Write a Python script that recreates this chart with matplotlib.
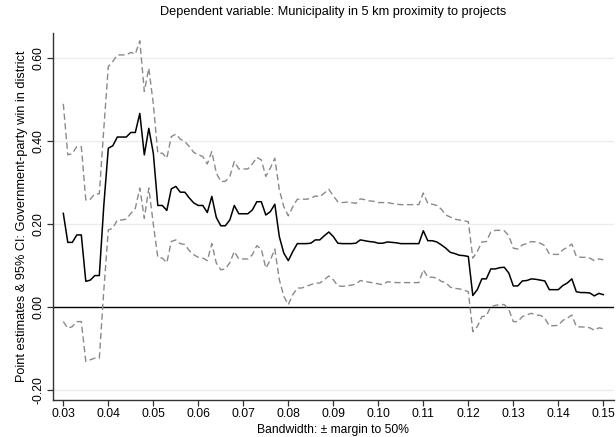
import numpy as np
import matplotlib
matplotlib.use("Agg")
import matplotlib.pyplot as plt

plt.rcParams['font.family'] = ['Liberation Sans', 'DejaVu Sans']

# bandwidth grid 0.030 ... 0.150 in steps of 0.001
bandwidth = np.arange(30, 151) / 1000

estimate = [
    0.226, 0.156, 0.156, 0.174, 0.174, 0.062, 0.065, 0.076, 0.076, 0.245,
    0.383, 0.389, 0.410, 0.410, 0.410, 0.421, 0.421, 0.467, 0.367, 0.431,
    0.371, 0.245, 0.245, 0.233, 0.285, 0.291, 0.277, 0.277, 0.263, 0.251,
    0.245, 0.245, 0.228, 0.267, 0.216, 0.196, 0.196, 0.210, 0.245, 0.225,
    0.225, 0.225, 0.234, 0.254, 0.254, 0.222, 0.230, 0.248, 0.170, 0.130,
    0.112, 0.134, 0.153, 0.153, 0.153, 0.154, 0.162, 0.162, 0.172, 0.181,
    0.170, 0.154, 0.153, 0.153, 0.153, 0.154, 0.162, 0.160, 0.158, 0.157,
    0.154, 0.154, 0.157, 0.156, 0.155, 0.153, 0.153, 0.153, 0.153, 0.153,
    0.184, 0.160, 0.160, 0.157, 0.150, 0.142, 0.132, 0.129, 0.125, 0.124,
    0.122, 0.028, 0.042, 0.068, 0.068, 0.092, 0.092, 0.095, 0.096, 0.082,
    0.051, 0.051, 0.063, 0.064, 0.068, 0.067, 0.065, 0.063, 0.042, 0.042,
    0.042, 0.052, 0.058, 0.068, 0.037, 0.035, 0.035, 0.034, 0.027, 0.033,
    0.030,
]

ci_upper = [
    0.490, 0.367, 0.370, 0.387, 0.387, 0.258, 0.260, 0.273, 0.273, 0.430,
    0.580, 0.592, 0.608, 0.608, 0.608, 0.614, 0.610, 0.642, 0.520, 0.576,
    0.490, 0.371, 0.371, 0.359, 0.411, 0.417, 0.405, 0.399, 0.387, 0.373,
    0.367, 0.363, 0.345, 0.375, 0.323, 0.303, 0.303, 0.315, 0.351, 0.333,
    0.333, 0.333, 0.345, 0.361, 0.355, 0.315, 0.335, 0.359, 0.283, 0.242,
    0.220, 0.242, 0.260, 0.260, 0.260, 0.262, 0.268, 0.266, 0.275, 0.284,
    0.268, 0.254, 0.252, 0.253, 0.252, 0.250, 0.261, 0.259, 0.256, 0.255,
    0.252, 0.252, 0.252, 0.250, 0.248, 0.247, 0.247, 0.247, 0.247, 0.247,
    0.275, 0.250, 0.248, 0.245, 0.236, 0.222, 0.217, 0.212, 0.210, 0.208,
    0.206, 0.118, 0.134, 0.157, 0.158, 0.181, 0.185, 0.185, 0.184, 0.172,
    0.142, 0.140, 0.150, 0.153, 0.158, 0.157, 0.154, 0.148, 0.128, 0.127,
    0.127, 0.138, 0.144, 0.152, 0.122, 0.120, 0.120, 0.118, 0.112, 0.116,
    0.114,
]

ci_lower = [
    -0.035, -0.051, -0.047, -0.035, -0.035, -0.131, -0.127, -0.123, -0.123, 0.040,
    0.186, 0.190, 0.210, 0.210, 0.212, 0.226, 0.238, 0.287, 0.214, 0.287,
    0.200, 0.120, 0.118, 0.107, 0.158, 0.162, 0.153, 0.151, 0.136, 0.126,
    0.120, 0.118, 0.112, 0.153, 0.106, 0.090, 0.092, 0.107, 0.134, 0.116,
    0.116, 0.116, 0.126, 0.148, 0.140, 0.094, 0.113, 0.140, 0.066, 0.026,
    0.006, 0.030, 0.046, 0.046, 0.050, 0.054, 0.058, 0.058, 0.066, 0.075,
    0.066, 0.051, 0.050, 0.051, 0.053, 0.055, 0.064, 0.062, 0.060, 0.058,
    0.056, 0.054, 0.061, 0.060, 0.059, 0.059, 0.059, 0.059, 0.059, 0.059,
    0.090, 0.072, 0.072, 0.070, 0.062, 0.059, 0.048, 0.045, 0.044, 0.041,
    0.037, -0.059, -0.047, -0.023, -0.021, 0.001, 0.004, 0.006, 0.006, -0.006,
    -0.035, -0.035, -0.023, -0.019, -0.015, -0.019, -0.020, -0.027, -0.045, -0.045,
    -0.044, -0.032, -0.027, -0.019, -0.047, -0.048, -0.048, -0.050, -0.056, -0.050,
    -0.052,
]

x_ticks = [0.03, 0.04, 0.05, 0.06, 0.07, 0.08, 0.09, 0.10, 0.11, 0.12, 0.13, 0.14, 0.15]
y_ticks = [-0.2, 0.0, 0.2, 0.4, 0.6]

fig = plt.figure(figsize=(6.16, 4.37), dpi=100)
ax = fig.add_axes([0.0856, 0.0847, 0.9112, 0.839])

for yv in y_ticks:
    if yv != 0:
        ax.axhline(yv, color='#e6eef0', lw=1.0, zorder=0)
ax.axhline(0, color='black', lw=1.0, zorder=1)

dash = (0, (4.5, 2.5))
ax.plot(bandwidth, ci_upper, color='#8a8a8a', lw=1.0, linestyle=dash, zorder=2)
ax.plot(bandwidth, ci_lower, color='#8a8a8a', lw=1.0, linestyle=dash, zorder=2)
ax.plot(bandwidth, estimate, color='black', lw=1.1, zorder=3)

ax.set_xlim(0.02765, 0.15238)
ax.set_ylim(-0.224, 0.66)
ax.set_xticks(x_ticks)
ax.set_xticklabels([f"{t:.2f}" for t in x_ticks])
ax.set_yticks(y_ticks)
ax.set_yticklabels([f"{t:.2f}" for t in y_ticks], rotation=90, va='center')

for side in ['top', 'right']:
    ax.spines[side].set_visible(False)
for side in ['left', 'bottom']:
    ax.spines[side].set_color('#333333')
    ax.spines[side].set_linewidth(1.0)
ax.tick_params(direction='out', length=4, width=0.9, color='#333333',
               labelsize=8.8, pad=2)

ax.set_title("Dependent variable: Municipality in 5 km proximity to projects",
             fontsize=9.2, pad=13)
ax.set_xlabel("Bandwidth: ± margin to 50%", fontsize=8.7, labelpad=3)
ax.set_ylabel("Point estimates & 95% CI: Government-party win in district",
              fontsize=9.2, labelpad=3)

fig.savefig("out.png", dpi=100)
